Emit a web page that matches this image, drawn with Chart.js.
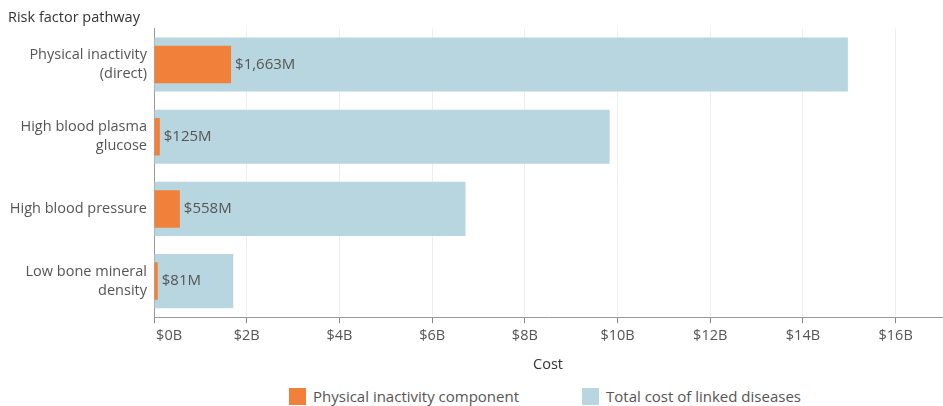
<!DOCTYPE html>
<html>
<head>
<meta charset="utf-8">
<script src="https://cdn.jsdelivr.net/npm/chart.js@4.4.1/dist/chart.umd.min.js"></script>
<style>
    body { margin: 0; background: #fff; font-family: "Open Sans", sans-serif; }
    #wrap { position: relative; width: 943px; height: 406px; }
    #legenda { position: absolute; top: 388px; left: 0; width: 943px; height: 18px; font-size: 15px; color: #555; }
    .item { position: absolute; top: 0; display: flex; align-items: center; line-height: 17px; }
    .caixa { width: 17px; height: 17px; margin-right: 7px; }
</style>
</head>
<body>
<div id="wrap">
    <canvas id="graficoCusto" width="943" height="374"></canvas>
    <div id="legenda">
        <div class="item" style="left:289px"><span class="caixa" style="background:#f0803a"></span>Physical inactivity component</div>
        <div class="item" style="left:582px"><span class="caixa" style="background:#b8d6df"></span>Total cost of linked diseases</div>
    </div>
</div>
<script>
// Dados (em milhões de dólares)
const categorias = [
    ['Physical inactivity', '(direct)'],
    ['High blood plasma', 'glucose'],
    'High blood pressure',
    ['Low bone mineral', 'density']
];
const componenteInatividade = [1663, 125, 558, 81];
const custoTotalDoencas = [14970, 9830, 6720, 1710];
const rotulosComponente = ['$1,663M', '$125M', '$558M', '$81M'];
const valoresEixo = [0, 2000, 4000, 6000, 8000, 10000, 12000, 14000, 16000];
const rotulosEixo = ['$0B', '$2B', '$4B', '$6B', '$8B', '$10B', '$12B', '$14B', '$16B'];

const corLaranja = '#f0803a';
const corAzul = '#b8d6df';
const fonte = '"Open Sans", sans-serif';

// Plugin para escrever os valores ao lado das barras laranja
const rotulosBarras = {
    id: 'rotulosBarras',
    afterDatasetsDraw(chart) {
        const ctx = chart.ctx;
        const meta = chart.getDatasetMeta(0);
        ctx.save();
        ctx.font = '15px ' + fonte;
        ctx.fillStyle = '#555';
        ctx.textAlign = 'left';
        ctx.textBaseline = 'middle';
        meta.data.forEach((barra, i) => {
            ctx.fillText(rotulosComponente[i], barra.x + 4, barra.y);
        });
        ctx.restore();
    }
};

document.addEventListener("DOMContentLoaded", () => {
    const ctx = document.getElementById('graficoCusto').getContext('2d');
    window.graficoCusto = new Chart(ctx, {
        type: 'bar',
        data: {
            labels: categorias,
            datasets: [
                {
                    label: 'Physical inactivity component',
                    data: componenteInatividade,
                    backgroundColor: corLaranja,
                    grouped: false,
                    categoryPercentage: 1,
                    barPercentage: 0.52
                },
                {
                    label: 'Total cost of linked diseases',
                    data: custoTotalDoencas,
                    backgroundColor: corAzul,
                    grouped: false,
                    categoryPercentage: 1,
                    barPercentage: 0.75
                }
            ]
        },
        options: {
            indexAxis: 'y',
            responsive: false,
            animation: false,
            layout: { padding: { left: 8, right: 1, top: 0, bottom: 0 } },
            plugins: {
                legend: { display: false },
                tooltip: { enabled: false },
                title: {
                    display: true,
                    text: 'Risk factor pathway',
                    align: 'start',
                    color: '#333',
                    font: { family: fonte, size: 14.5, weight: 'normal' },
                    padding: { top: 9, bottom: 2 }
                }
            },
            scales: {
                x: {
                    type: 'linear',
                    min: 0,
                    max: 17000,
                    afterBuildTicks: axis => {
                        axis.ticks = valoresEixo.map(v => ({ value: v }));
                    },
                    ticks: {
                        color: '#555',
                        font: { family: fonte, size: 14.5 },
                        padding: 4,
                        maxRotation: 0,
                        autoSkip: false,
                        // o primeiro rótulo fica deslocado para dentro, como no original
                        callback: (v, i) => i === 0 ? '        ' + rotulosEixo[i] : rotulosEixo[i]
                    },
                    grid: { color: '#efefef', tickColor: '#888', tickLength: 6 },
                    border: { color: '#999' },
                    title: {
                        display: true,
                        text: 'Cost',
                        color: '#333',
                        font: { family: fonte, size: 14.5 },
                        padding: { top: 8, bottom: 0 }
                    }
                },
                y: {
                    afterFit: axis => { axis.width = 146; },
                    ticks: {
                        color: '#555',
                        font: { family: fonte, size: 14.5, lineHeight: 1.3 },
                        padding: 7
                    },
                    grid: { display: false, drawTicks: false },
                    border: { color: '#999' }
                }
            }
        },
        plugins: [rotulosBarras]
    });
});
</script>
</body>
</html>
